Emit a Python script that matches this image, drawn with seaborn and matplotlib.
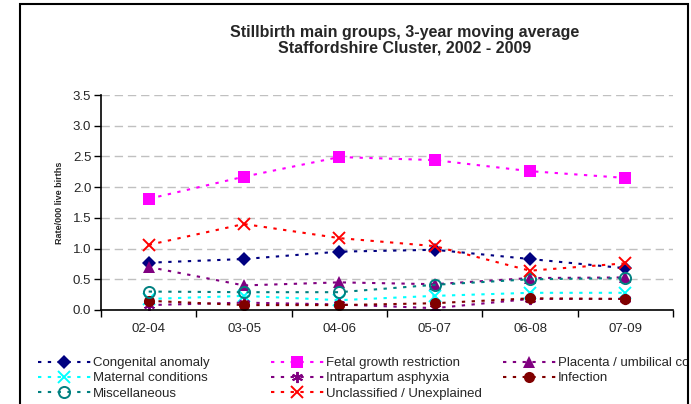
"""Stillbirth main groups, 3-year moving average (Staffordshire Cluster)."""
import matplotlib
matplotlib.use("Agg")
import matplotlib.pyplot as plt
import pandas as pd
import seaborn as sns
from matplotlib.patches import Rectangle

periods = ["02-04", "03-05", "04-06", "05-07", "06-08", "07-09"]
congenital = [0.77, 0.83, 0.95, 0.98, 0.83, 0.68]
fetal = [1.81, 2.17, 2.49, 2.44, 2.26, 2.15]
placenta = [0.70, 0.40, 0.45, 0.42, 0.52, 0.53]
maternal = [0.18, 0.23, 0.16, 0.23, 0.28, 0.28]
intrapartum = [0.08, 0.12, 0.09, 0.03, 0.18, 0.18]
infection = [0.15, 0.08, 0.08, 0.11, 0.19, 0.18]
misc = [0.30, 0.29, 0.29, 0.41, 0.50, 0.52]
unclassified = [1.06, 1.40, 1.17, 1.04, 0.64, 0.76]

# name, values, colour, marker, filled
series = [
    ("Congenital anomaly", congenital, "#000080", "D", True),
    ("Fetal growth restriction", fetal, "#FF00FF", "s", True),
    ("Placenta / umbilical cord", placenta, "#800080", "^", True),
    ("Maternal conditions", maternal, "#00FFFF", "x", True),
    ("Intrapartum asphyxia", intrapartum, "#800080", (6, 2, 0), True),
    ("Infection", infection, "#800000", "o", True),
    ("Miscellaneous", misc, "#008080", "o", False),
    ("Unclassified / Unexplained", unclassified, "#FF0000", "x", True),
]

sns.set_style("white")
plt.rcParams["font.family"] = ["Liberation Sans", "DejaVu Sans"]

W, H = 691, 404
fig = plt.figure(figsize=(W / 100, H / 100), dpi=100)
ax = fig.add_axes([101 / W, 1 - 310 / H, (673 - 101) / W, (310 - 95) / H])

handles = []
for name, vals, col, mk, filled in series:
    df = pd.DataFrame({"period": periods, "rate": vals})
    sns.lineplot(data=df, x="period", y="rate", ax=ax, color=col,
                 marker=mk, markersize=8 if mk != "D" else 7,
                 markeredgewidth=1.4 if mk in ("x", (6, 2, 0)) or not filled else 0,
                 markeredgecolor=col,
                 markerfacecolor=col if filled else "none",
                 linewidth=1.5, linestyle=(0, (1.6, 3.1)), label=name,
                 legend=False, sort=False)
    handles.append(ax.lines[-1])

ax.set_xlim(-0.5, 5.5)
ax.set_ylim(0, 3.5)
ax.set_yticks([i * 0.5 for i in range(8)])
ax.set_yticklabels([f"{i * 0.5:.1f}" for i in range(8)], fontsize=9.5)
ax.set_xticks(range(len(periods)))
ax.set_xticklabels(periods, fontsize=9.5)
ax.set_xticks([i - 0.5 for i in range(len(periods) + 1)], minor=True)
ax.tick_params(axis="x", which="major", length=0, pad=9)
ax.tick_params(axis="x", which="minor", length=5, width=1, color="black",
               direction="out", bottom=True)
ax.tick_params(axis="y", length=5, width=1, color="black", direction="out",
               left=True, pad=2)
ax.set_xlabel("")
ax.set_ylabel("Rate/000 live births", fontsize=6.5, fontweight="bold", labelpad=6)
ax.yaxis.grid(True, color="#C0C0C0", linestyle=(0, (6, 3.5)), linewidth=1.0)
ax.set_axisbelow(True)
for side in ("top", "right"):
    ax.spines[side].set_visible(False)
for side in ("left", "bottom"):
    ax.spines[side].set_color("black")
    ax.spines[side].set_linewidth(1.2)

fig.text(405 / W, 1 - 32 / H, "Stillbirth main groups, 3-year moving average",
         ha="center", va="center", fontsize=11.5, fontweight="bold")
fig.text(405 / W, 1 - 48 / H, "Staffordshire Cluster, 2002 - 2009",
         ha="center", va="center", fontsize=11.5, fontweight="bold")

# legend laid out like the spreadsheet: three fixed columns, row-major order
columns = [(38, [0, 3, 6]), (271, [1, 4, 7]), (503, [2, 5])]
for x0, idx in columns:
    fig.legend([handles[i] for i in idx], [series[i][0] for i in idx],
               loc="upper left", bbox_to_anchor=(x0 / W, 1 - 357 / H),
               frameon=False, fontsize=9.5, handlelength=4.0,
               handletextpad=0.15, labelspacing=0.22, borderpad=0,
               borderaxespad=0)

# chart border; the last legend column runs into its right edge, as in the source
fig.add_artist(Rectangle((688 / W, 0), 1, 1, transform=fig.transFigure,
                         facecolor="white", edgecolor="none", zorder=20))
fig.add_artist(Rectangle((20 / W, -0.1), (688 - 20) / W, 1.1 - 4 / H,
                         transform=fig.transFigure, facecolor="none",
                         edgecolor="black", linewidth=1.5, zorder=21))

fig.savefig("out.png", dpi=100)
